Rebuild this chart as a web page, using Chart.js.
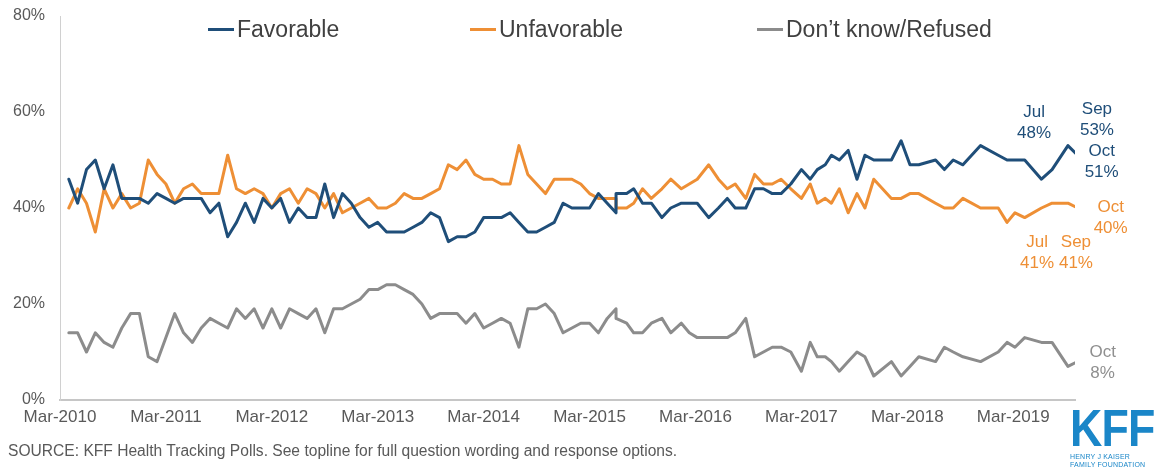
<!DOCTYPE html>
<html>
<head>
<meta charset="utf-8">
<script src="https://cdn.jsdelivr.net/npm/chart.js@4.4.1/dist/chart.umd.min.js"></script>
<style>
  html, body { margin: 0; padding: 0; background: #fff; }
  #wrap { position: relative; width: 1161px; height: 467px; overflow: hidden;
          font-family: "Liberation Sans", Arial, sans-serif; }
  #chart { position: absolute; left: 0; top: 0; }
  .leg { position: absolute; top: 16px; font-size: 23px; color: #404040; white-space: nowrap; line-height: 26px; }
  .leg i { display: inline-block; width: 26px; height: 3px; vertical-align: middle; margin-right: 3px; position: relative; top: -1px; }
  #source { position: absolute; left: 8px; top: 442px; font-size: 15.6px; color: #595959; white-space: nowrap; }
  #logo { position: absolute; left: 1070px; top: 403px; color: #1a86c8; }
  #logo .big { font-weight: bold; font-size: 52px; line-height: 50px; letter-spacing: -1px;
               transform: scaleX(0.86); transform-origin: left top; }
  #logo .small { font-size: 7px; line-height: 8px; letter-spacing: 0.2px; }
</style>
</head>
<body>
<div id="wrap">
  <canvas id="chart" width="1161" height="467"></canvas>
  <div class="leg" style="left:208px"><i style="background:#1f4e79"></i>Favorable</div>
  <div class="leg" style="left:470px"><i style="background:#ee8f35"></i>Unfavorable</div>
  <div class="leg" style="left:757px"><i style="background:#8c8c8c"></i>Don’t know/Refused</div>
  <div id="source">SOURCE: KFF Health Tracking Polls. See topline for full question wording and response options.</div>
  <div id="logo"><div class="big">KFF</div><div class="small">HENRY J KAISER<br>FAMILY FOUNDATION</div></div>
</div>
<script>
// poll dates as months since March 2010
const pollMonths = [
  1, 2, 3, 4, 5, 6, 7, 8, 9, 10, 11, 12, 13, 14, 15, 16, 17, 18, 19, 20,
  21, 22, 23, 24, 25, 26, 27, 28, 29, 30, 31, 32, 33, 34, 35, 36, 37, 38, 39, 40,
  41, 42, 43, 44, 45, 46, 47, 48, 49, 50, 51, 52, 53, 54, 55, 56, 57, 58,
  59, 60, 61, 62, 63, 63, 64.2, 65, 66, 67, 68.2, 69.2, 70.4, 71.3, 72.2,
  73.5, 74.6, 75.6, 76.5, 77.7, 78.7, 79.7, 80.7, 81.7, 82.8, 84, 85, 85.8, 86.7, 87.4,
  88.3, 89.3, 90.3, 91.2, 92.2, 94.2, 95.3, 96.3, 97.3, 99.2, 100.2, 101.2, 102.3, 104.3, 106.3,
  107.3, 108.2, 109.3, 111.2, 112.4, 114.2, 115.3
];

const favorable = [
  46, 41, 48, 50, 44, 49, 42, 42, 42, 41, 43, 42, 41, 42, 42, 42, 39, 41, 34, 37,
  41, 37, 42, 40, 42, 37, 40, 38, 38, 45, 38, 43, 41, 38, 36, 37, 35, 35, 35, 36,
  37, 39, 38, 33, 34, 34, 35, 38, 38, 38, 39, 37, 35, 35, 36, 37, 41, 40,
  40, 40, 43, 41, 39, 43, 43, 44, 41, 41, 38, 40, 41, 41, 41,
  38, 40, 42, 40, 40, 44, 44, 43, 43, 45, 48, 46, 48, 49, 51,
  50, 52, 46, 51, 50, 50, 54, 49, 49, 50, 48, 50, 49, 53, 51,
  50, 50, 50, 46, 48, 53, 51
];

const unfavorable = [
  40, 44, 41, 35, 44, 40, 43, 40, 41, 50, 47, 45, 41, 44, 45, 43, 43, 43, 51, 44,
  43, 44, 43, 40, 43, 44, 41, 44, 43, 40, 43, 39, 40, 41, 42, 40, 40, 41, 43, 42,
  42, 43, 44, 49, 48, 50, 47, 46, 46, 45, 45, 53, 47, 45, 43, 46, 46, 46,
  45, 43, 42, 42, 42, 40, 40, 41, 44, 42, 44, 46, 44, 45, 46,
  49, 46, 44, 45, 42, 47, 45, 45, 46, 44, 42, 45, 41, 42, 41,
  44, 39, 43, 40, 46, 42, 42, 43, 43, 41, 40, 40, 42, 40, 40,
  37, 39, 38, 40, 41, 41, 40
];

const dontKnow = [
  14, 14, 10, 14, 12, 11, 15, 18, 18, 9, 8, 13, 18, 14, 12, 15, 17, 16, 15, 19,
  17, 19, 15, 19, 15, 19, 18, 17, 19, 14, 19, 19, 20, 21, 23, 23, 24, 24, 23, 22,
  20, 17, 18, 18, 18, 16, 18, 15, 16, 17, 16, 11, 19, 19, 20, 18, 14, 15,
  16, 16, 14, 17, 19, 17, 16, 14, 14, 16, 17, 14, 16, 14, 13,
  13, 13, 13, 14, 17, 9, 10, 11, 11, 10, 6, 12, 9, 9, 8,
  6, 8, 10, 9, 5, 8, 5, 7, 9, 8, 11, 10, 9, 8, 10,
  12, 11, 13, 12, 12, 7, 8
];

const xTickMonths = [0, 12, 24, 36, 48, 60, 72, 84, 96, 108];
const xTickLabels = ['Mar-2010', 'Mar-2011', 'Mar-2012', 'Mar-2013', 'Mar-2014',
                     'Mar-2015', 'Mar-2016', 'Mar-2017', 'Mar-2018', 'Mar-2019'];
const yTicks = [0, 20, 40, 60, 80];

const BLUE = '#1f4e79', ORANGE = '#ee8f35', GRAY = '#8c8c8c';

function toPoints(values) {
  return values.map((v, i) => ({ x: pollMonths[i], y: v }));
}

// month word + value labels next to the latest readings
const callouts = [
  { ds: 0, month: 112.4, word: 'Jul', dx: -18, dy: -57, color: BLUE },
  { ds: 0, month: 114.2, word: 'Sep', dx: 29, dy: -36, color: BLUE },
  { ds: 0, month: 115.3, word: 'Oct', dx: 24, dy: -4, color: BLUE },
  { ds: 1, month: 115.3, word: 'Oct', dx: 33, dy: -1, color: ORANGE },
  { ds: 1, month: 112.4, word: 'Jul', dx: -15, dy: 39, color: ORANGE },
  { ds: 1, month: 114.2, word: 'Sep', dx: 8, dy: 39, color: ORANGE },
  { ds: 2, month: 115.3, word: 'Oct', dx: 25, dy: -9, color: '#8f8f8f' }
];

const calloutPlugin = {
  id: 'callouts',
  afterDatasetsDraw(chart) {
    const ctx = chart.ctx;
    const xs = chart.scales.x, ys = chart.scales.y;
    ctx.save();
    ctx.font = '17px "Liberation Sans", Arial, sans-serif';
    ctx.textAlign = 'center';
    ctx.textBaseline = 'middle';
    callouts.forEach(c => {
      const idx = pollMonths.lastIndexOf(c.month);
      const val = chart.data.datasets[c.ds].data[idx].y;
      const px = xs.getPixelForValue(c.month) + c.dx;
      const py = ys.getPixelForValue(val) + c.dy;
      ctx.fillStyle = c.color;
      ctx.fillText(c.word, px, py);
      ctx.fillText(val + '%', px, py + 21);
    });
    ctx.restore();
  }
};

new Chart(document.getElementById('chart'), {
  type: 'line',
  data: {
    datasets: [
      { label: 'Favorable', data: toPoints(favorable), borderColor: BLUE },
      { label: 'Unfavorable', data: toPoints(unfavorable), borderColor: ORANGE },
      { label: 'Don’t know/Refused', data: toPoints(dontKnow), borderColor: GRAY }
    ]
  },
  options: {
    responsive: false,
    animation: false,
    layout: { padding: { top: 16, right: 86, left: 0, bottom: 0 } },
    elements: {
      line: { borderWidth: 3, tension: 0, borderJoinStyle: 'round', borderCapStyle: 'round' },
      point: { radius: 0 }
    },
    plugins: { legend: { display: false }, tooltip: { enabled: false } },
    scales: {
      x: {
        type: 'linear',
        min: 0,
        max: 115,
        afterBuildTicks: s => { s.ticks = xTickMonths.map(v => ({ value: v })); },
        afterFit: s => { s.height = 67; },
        grid: { display: false, drawTicks: false },
        border: { color: '#c6c6c6', width: 2 },
        ticks: {
          padding: 7,
          maxRotation: 0,
          autoSkip: false,
          color: '#595959',
          font: { family: '"Liberation Sans", Arial, sans-serif', size: 17 },
          callback: v => xTickLabels[xTickMonths.indexOf(v)]
        }
      },
      y: {
        min: 0,
        max: 80,
        afterBuildTicks: s => { s.ticks = yTicks.map(v => ({ value: v })); },
        afterFit: s => { s.width = 60; s.paddingTop = 0; s.paddingBottom = 0; },
        grid: { display: false, drawTicks: false },
        border: { color: '#d0d0d0', width: 1 },
        ticks: {
          padding: 15,
          color: '#595959',
          font: { family: '"Liberation Sans", Arial, sans-serif', size: 16 },
          callback: v => v + '%'
        }
      }
    }
  },
  plugins: [calloutPlugin]
});
</script>
</body>
</html>
